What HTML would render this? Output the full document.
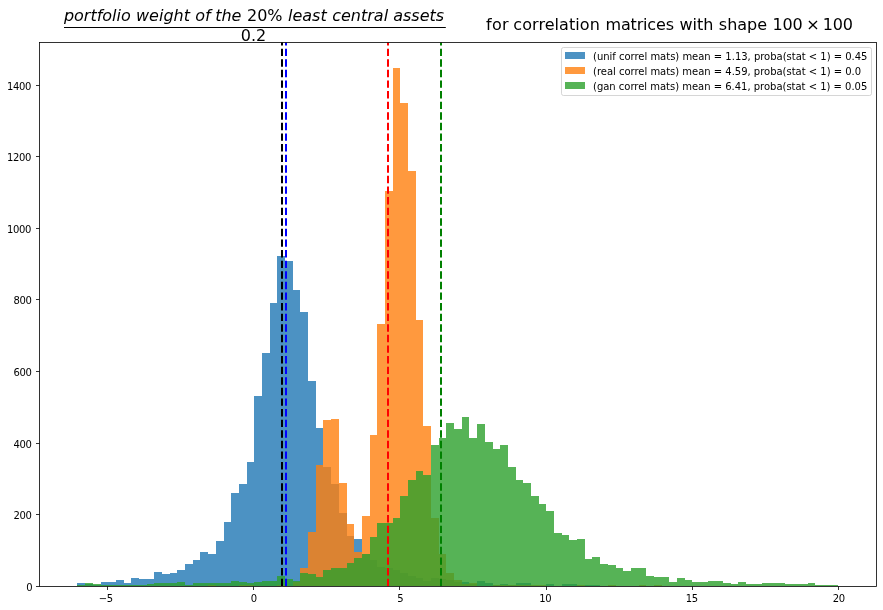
<!DOCTYPE html>
<html><head><meta charset="utf-8"><title>histogram</title>
<style>
html,body{margin:0;padding:0;background:#fff;}
svg{display:block;}
text{font-family:"DejaVu Sans","Liberation Sans",sans-serif;fill:#000;}
.t10{font-size:10px;}
.t16{font-size:16px;}
.it{font-style:oblique;}
</style></head><body>
<svg width="883" height="610" viewBox="0 0 883 610">
<rect x="0" y="0" width="883" height="610" fill="#ffffff"/>
<g fill="#1f77b4" fill-opacity="0.8" shape-rendering="crispEdges">
<rect x="77" y="583" width="8" height="3"/><rect x="85" y="584" width="8" height="2"/><rect x="93" y="585" width="8" height="1"/><rect x="101" y="582" width="7" height="4"/><rect x="108" y="582" width="8" height="4"/><rect x="116" y="580" width="8" height="6"/><rect x="124" y="583" width="7" height="3"/><rect x="131" y="578" width="8" height="8"/><rect x="139" y="579" width="8" height="7"/><rect x="147" y="579" width="7" height="7"/><rect x="154" y="572" width="8" height="14"/><rect x="162" y="574" width="8" height="12"/><rect x="170" y="573" width="7" height="13"/><rect x="177" y="570" width="8" height="16"/><rect x="185" y="564" width="8" height="22"/><rect x="193" y="560" width="7" height="26"/><rect x="200" y="552" width="8" height="34"/><rect x="208" y="554" width="8" height="32"/><rect x="216" y="541" width="8" height="45"/><rect x="224" y="522" width="7" height="64"/><rect x="231" y="493" width="8" height="93"/><rect x="239" y="484" width="8" height="102"/><rect x="247" y="462" width="7" height="124"/><rect x="254" y="396" width="8" height="190"/><rect x="262" y="353" width="8" height="233"/><rect x="270" y="303" width="7" height="283"/><rect x="277" y="256" width="8" height="330"/><rect x="285" y="261" width="8" height="325"/><rect x="293" y="290" width="7" height="296"/><rect x="300" y="312" width="8" height="274"/><rect x="308" y="381" width="8" height="205"/><rect x="316" y="428" width="7" height="158"/><rect x="323" y="467" width="8" height="119"/><rect x="331" y="484" width="8" height="102"/><rect x="339" y="513" width="8" height="73"/><rect x="347" y="536" width="7" height="50"/><rect x="354" y="539" width="8" height="47"/><rect x="362" y="554" width="8" height="32"/><rect x="370" y="560" width="7" height="26"/><rect x="377" y="567" width="8" height="19"/><rect x="385" y="568" width="8" height="18"/><rect x="393" y="570" width="7" height="16"/><rect x="400" y="573" width="8" height="13"/><rect x="408" y="576" width="8" height="10"/><rect x="416" y="578" width="7" height="8"/><rect x="423" y="581" width="8" height="5"/><rect x="431" y="578" width="8" height="8"/><rect x="439" y="579" width="7" height="7"/><rect x="446" y="580" width="8" height="6"/><rect x="454" y="582" width="8" height="4"/><rect x="462" y="582" width="7" height="4"/><rect x="469" y="584" width="8" height="2"/><rect x="477" y="581" width="8" height="5"/><rect x="485" y="583" width="8" height="3"/><rect x="493" y="585" width="7" height="1"/><rect x="500" y="584" width="8" height="2"/><rect x="508" y="584.5" width="8" height="1.5"/><rect x="516" y="583" width="7" height="3"/><rect x="523" y="583" width="8" height="3"/><rect x="546" y="584" width="8" height="2"/><rect x="562" y="584" width="7" height="2"/><rect x="569" y="584" width="8" height="2"/><rect x="585" y="585" width="7" height="1"/><rect x="592" y="585" width="8" height="1"/>
</g>
<g fill="#ff7f0e" fill-opacity="0.8" shape-rendering="crispEdges">
<rect x="208" y="585" width="8" height="1"/><rect x="239" y="585" width="8" height="1"/><rect x="247" y="585" width="7" height="1"/><rect x="277" y="584.5" width="8" height="1.5"/><rect x="293" y="582" width="7" height="4"/><rect x="300" y="568" width="8" height="18"/><rect x="308" y="532" width="8" height="54"/><rect x="316" y="465" width="7" height="121"/><rect x="323" y="420" width="8" height="166"/><rect x="331" y="419" width="8" height="167"/><rect x="339" y="483" width="8" height="103"/><rect x="347" y="524" width="7" height="62"/><rect x="354" y="552" width="8" height="34"/><rect x="362" y="516" width="8" height="70"/><rect x="370" y="435" width="7" height="151"/><rect x="377" y="324" width="8" height="262"/><rect x="385" y="191" width="8" height="395"/><rect x="393" y="68" width="7" height="518"/><rect x="400" y="103" width="8" height="483"/><rect x="408" y="171" width="8" height="415"/><rect x="416" y="320" width="7" height="266"/><rect x="423" y="426" width="8" height="160"/><rect x="431" y="518" width="8" height="68"/><rect x="439" y="554" width="7" height="32"/><rect x="446" y="573" width="8" height="13"/><rect x="454" y="580" width="8" height="6"/><rect x="462" y="583.5" width="7" height="2.5"/><rect x="469" y="583.3" width="8" height="2.7"/><rect x="493" y="585" width="7" height="1"/><rect x="500" y="585" width="8" height="1"/><rect x="508" y="585" width="8" height="1"/><rect x="516" y="585" width="7" height="1"/><rect x="523" y="585" width="8" height="1"/><rect x="531" y="585" width="8" height="1"/><rect x="539" y="585" width="7" height="1"/><rect x="577" y="585" width="8" height="1"/><rect x="608" y="585" width="8" height="1"/><rect x="639" y="585" width="7" height="1"/><rect x="654" y="585" width="8" height="1"/>
</g>
<g fill="#2ca02c" fill-opacity="0.8" shape-rendering="crispEdges">
<rect x="77" y="585" width="8" height="1"/><rect x="85" y="583" width="8" height="3"/><rect x="93" y="584" width="8" height="2"/><rect x="101" y="585" width="7" height="1"/><rect x="108" y="585" width="8" height="1"/><rect x="116" y="585" width="8" height="1"/><rect x="124" y="585" width="7" height="1"/><rect x="131" y="585" width="8" height="1"/><rect x="139" y="585" width="8" height="1"/><rect x="147" y="584" width="7" height="2"/><rect x="154" y="583" width="8" height="3"/><rect x="162" y="583" width="8" height="3"/><rect x="170" y="583" width="7" height="3"/><rect x="177" y="582" width="8" height="4"/><rect x="185" y="585" width="8" height="1"/><rect x="193" y="583" width="7" height="3"/><rect x="200" y="583" width="8" height="3"/><rect x="208" y="583" width="8" height="3"/><rect x="216" y="583" width="8" height="3"/><rect x="224" y="583" width="7" height="3"/><rect x="231" y="581" width="8" height="5"/><rect x="239" y="582" width="8" height="4"/><rect x="247" y="583" width="7" height="3"/><rect x="254" y="582" width="8" height="4"/><rect x="262" y="581" width="8" height="5"/><rect x="270" y="581" width="7" height="5"/><rect x="277" y="576" width="8" height="10"/><rect x="285" y="579" width="8" height="7"/><rect x="293" y="581" width="7" height="5"/><rect x="300" y="573" width="8" height="13"/><rect x="308" y="574" width="8" height="12"/><rect x="316" y="577" width="7" height="9"/><rect x="323" y="570" width="8" height="16"/><rect x="331" y="568" width="8" height="18"/><rect x="339" y="568" width="8" height="18"/><rect x="347" y="563" width="7" height="23"/><rect x="354" y="558" width="8" height="28"/><rect x="362" y="554" width="8" height="32"/><rect x="370" y="537" width="7" height="49"/><rect x="377" y="523" width="8" height="63"/><rect x="385" y="523" width="8" height="63"/><rect x="393" y="518" width="7" height="68"/><rect x="400" y="496" width="8" height="90"/><rect x="408" y="480" width="8" height="106"/><rect x="416" y="471" width="7" height="115"/><rect x="423" y="475" width="8" height="111"/><rect x="431" y="445" width="8" height="141"/><rect x="439" y="438" width="7" height="148"/><rect x="446" y="423" width="8" height="163"/><rect x="454" y="429" width="8" height="157"/><rect x="462" y="417" width="7" height="169"/><rect x="469" y="438" width="8" height="148"/><rect x="477" y="424" width="8" height="162"/><rect x="485" y="442" width="8" height="144"/><rect x="493" y="449" width="7" height="137"/><rect x="500" y="445" width="8" height="141"/><rect x="508" y="467" width="8" height="119"/><rect x="516" y="480" width="7" height="106"/><rect x="523" y="483" width="8" height="103"/><rect x="531" y="496" width="8" height="90"/><rect x="539" y="504" width="7" height="82"/><rect x="546" y="511" width="8" height="75"/><rect x="554" y="533" width="8" height="53"/><rect x="562" y="535" width="7" height="51"/><rect x="569" y="540" width="8" height="46"/><rect x="577" y="539" width="8" height="47"/><rect x="585" y="559" width="7" height="27"/><rect x="592" y="557" width="8" height="29"/><rect x="600" y="564" width="8" height="22"/><rect x="608" y="565" width="8" height="21"/><rect x="616" y="568" width="7" height="18"/><rect x="623" y="571" width="8" height="15"/><rect x="631" y="568" width="8" height="18"/><rect x="639" y="568" width="7" height="18"/><rect x="646" y="576" width="8" height="10"/><rect x="654" y="577" width="8" height="9"/><rect x="662" y="577" width="7" height="9"/><rect x="669" y="582" width="8" height="4"/><rect x="677" y="578" width="8" height="8"/><rect x="685" y="580" width="7" height="6"/><rect x="692" y="582" width="8" height="4"/><rect x="700" y="582" width="8" height="4"/><rect x="708" y="581" width="7" height="5"/><rect x="715" y="581" width="8" height="5"/><rect x="723" y="583" width="8" height="3"/><rect x="731" y="584" width="7" height="2"/><rect x="738" y="582" width="8" height="4"/><rect x="746" y="584" width="8" height="2"/><rect x="754" y="584" width="8" height="2"/><rect x="762" y="583" width="7" height="3"/><rect x="769" y="583" width="8" height="3"/><rect x="777" y="583" width="8" height="3"/><rect x="785" y="584" width="7" height="2"/><rect x="792" y="584" width="8" height="2"/><rect x="800" y="584" width="8" height="2"/><rect x="808" y="583" width="7" height="3"/><rect x="815" y="585" width="8" height="1"/><rect x="823" y="585" width="8" height="1"/><rect x="831" y="585" width="7" height="1"/>
</g>
<line x1="282.0" y1="586.06" x2="282.0" y2="42.5" stroke="#000000" stroke-width="2" stroke-dasharray="7.4 3.2"/>
<line x1="286.0" y1="586.06" x2="286.0" y2="42.5" stroke="#0000ff" stroke-width="2" stroke-dasharray="7.4 3.2"/>
<line x1="388.0" y1="586.06" x2="388.0" y2="42.5" stroke="#ff0000" stroke-width="2" stroke-dasharray="7.4 3.2"/>
<line x1="441.0" y1="586.06" x2="441.0" y2="42.5" stroke="#008000" stroke-width="2" stroke-dasharray="7.4 3.2"/>
<rect x="39.5" y="42.5" width="837.0" height="544.0" fill="none" stroke="#000" stroke-width="0.8"/>
<g stroke="#000" stroke-width="0.8">
<line x1="107.5" y1="586.5" x2="107.5" y2="590.0"/><line x1="253.5" y1="586.5" x2="253.5" y2="590.0"/><line x1="399.5" y1="586.5" x2="399.5" y2="590.0"/><line x1="546.5" y1="586.5" x2="546.5" y2="590.0"/><line x1="692.5" y1="586.5" x2="692.5" y2="590.0"/><line x1="838.5" y1="586.5" x2="838.5" y2="590.0"/><line x1="39.5" y1="586.5" x2="36.0" y2="586.5"/><line x1="39.5" y1="514.5" x2="36.0" y2="514.5"/><line x1="39.5" y1="443.5" x2="36.0" y2="443.5"/><line x1="39.5" y1="371.5" x2="36.0" y2="371.5"/><line x1="39.5" y1="299.5" x2="36.0" y2="299.5"/><line x1="39.5" y1="228.5" x2="36.0" y2="228.5"/><line x1="39.5" y1="156.5" x2="36.0" y2="156.5"/><line x1="39.5" y1="85.5" x2="36.0" y2="85.5"/>
</g>
<g class="t10">
<text x="98.73" y="601.6" style="letter-spacing:-0.36px">−5</text><text x="250.82" y="601.6" style="letter-spacing:-0.36px">0</text><text x="397.32" y="601.6" style="letter-spacing:-0.36px">5</text><text x="539.34" y="601.6" style="letter-spacing:-0.36px">10</text><text x="685.84" y="601.6" style="letter-spacing:-0.36px">15</text><text x="832.84" y="601.6" style="letter-spacing:-0.36px">20</text><text x="26.14" y="590.7" style="letter-spacing:-0.36px">0</text><text x="13.41" y="518.7" style="letter-spacing:-0.36px">200</text><text x="13.41" y="447.7" style="letter-spacing:-0.36px">400</text><text x="13.41" y="375.7" style="letter-spacing:-0.36px">600</text><text x="13.41" y="303.7" style="letter-spacing:-0.36px">800</text><text x="7.05" y="232.7" style="letter-spacing:-0.36px">1000</text><text x="7.05" y="160.7" style="letter-spacing:-0.36px">1200</text><text x="7.05" y="89.7" style="letter-spacing:-0.36px">1400</text>
</g>
<g class="t16">
<text y="21.4"><tspan x="63.9" class="it">portfolio</tspan> <tspan x="136.0" class="it">weight</tspan> <tspan x="195.2" class="it">of</tspan> <tspan x="215.2" class="it">the</tspan> <tspan x="247.0">20%</tspan> <tspan x="288.0" class="it">least</tspan> <tspan x="332.2" class="it">central</tspan> <tspan x="393.2" class="it">assets</tspan></text>
<text x="240.8" y="40.9">0.2</text>
<text y="29.9"><tspan x="486.0" style="letter-spacing:0.3px">for</tspan> <tspan x="513.3" style="letter-spacing:0.07px">correlation</tspan> <tspan x="605.5" style="letter-spacing:-0.17px">matrices</tspan> <tspan x="679.4">with</tspan> <tspan x="718.8">shape</tspan> <tspan x="772.5" style="letter-spacing:-0.2px">100</tspan> <tspan x="806.3">×</tspan> <tspan x="822.8" style="letter-spacing:-0.2px">100</tspan></text>
</g>
<line x1="64" y1="27.5" x2="445.8" y2="27.5" stroke="#000" stroke-width="1"/>
<rect x="561.5" y="47.5" width="310" height="48" rx="2" ry="2" fill="#ffffff" fill-opacity="0.8" stroke="#cccccc" stroke-opacity="0.8" stroke-width="1"/>
<rect x="565" y="52" width="20" height="7" fill="#1f77b4" fill-opacity="0.8" shape-rendering="crispEdges"/><text class="t10" x="593" y="59.6" style="letter-spacing:-0.016px">(unif correl mats) mean = 1.13, proba(stat &lt; 1) = 0.45</text>
<rect x="565" y="67" width="20" height="7" fill="#ff7f0e" fill-opacity="0.8" shape-rendering="crispEdges"/><text class="t10" x="593" y="74.6" style="letter-spacing:-0.016px">(real correl mats) mean = 4.59, proba(stat &lt; 1) = 0.0</text>
<rect x="565" y="82" width="20" height="7" fill="#2ca02c" fill-opacity="0.8" shape-rendering="crispEdges"/><text class="t10" x="593" y="89.5" style="letter-spacing:-0.016px">(gan correl mats) mean = 6.41, proba(stat &lt; 1) = 0.05</text>
</svg>
</body></html>
